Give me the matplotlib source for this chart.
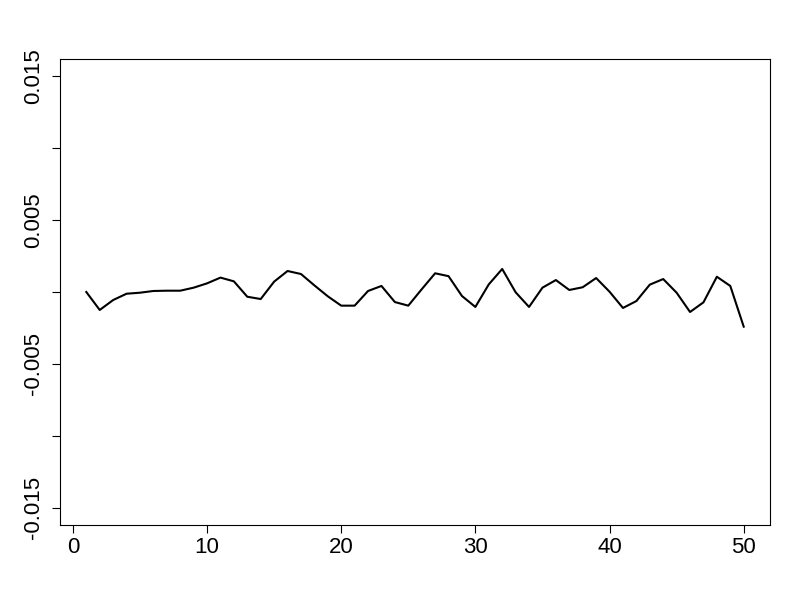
import numpy as np
import matplotlib
matplotlib.use("Agg")
from matplotlib import pyplot as plt

plt.rcParams['font.family'] = ['Liberation Sans', 'DejaVu Sans']

# values
index = np.arange(1, 51)
values = [0.00000, -0.00125, -0.00056, -0.00012, -0.00005, 0.00007, 0.00009, 0.00009, 0.00030, 0.00060,
          0.00100, 0.00074, -0.00033, -0.00049, 0.00072, 0.00146, 0.00125, 0.00046, -0.00030, -0.00095,
          -0.00095, 0.00007, 0.00042, -0.00070, -0.00095, 0.00019, 0.00130, 0.00110, -0.00028, -0.00104,
          0.00053, 0.00160, -0.00002, -0.00104, 0.00030, 0.00083, 0.00014, 0.00033, 0.00097, 0.00002,
          -0.00111, -0.00063, 0.00051, 0.00090, -0.00005, -0.00139, -0.00072, 0.00106, 0.00042, -0.00241]

y_ticks = [-0.015, -0.01, -0.005, 0, 0.005, 0.01, 0.015]
y_labels = ["-0.015", "", "-0.005", "", "0.005", "", "0.015"]
x_ticks = [0, 10, 20, 30, 40, 50]

fig = plt.figure(figsize=(8, 6), dpi=100)
ax = fig.add_axes([0.075, 0.125, 0.8875, 0.7767])
ax.plot(index, values, color='black', linewidth=1.5)

# R style 4% padding around the data range
ax.set_xlim(1 - 0.04 * 49, 50 + 0.04 * 49)
ax.set_ylim(-0.015 - 0.04 * 0.03, 0.015 + 0.04 * 0.03)

ax.set_xticks(x_ticks)
ax.set_xticklabels([str(t) for t in x_ticks])
ax.set_yticks(y_ticks)
ax.set_yticklabels(y_labels, rotation=90, va='center')

ax.tick_params(axis='both', labelsize=16, length=5.5, width=0.8, color='black')
ax.tick_params(axis='x', pad=3)
ax.tick_params(axis='y', pad=6)
for s in ax.spines.values():
    s.set_linewidth(0.8)

fig.savefig("out.png", dpi=100)
